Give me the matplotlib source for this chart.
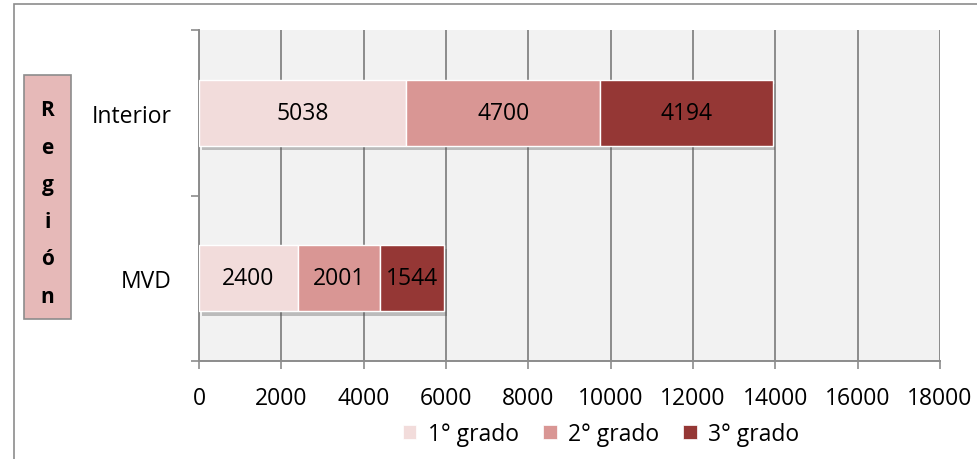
import numpy as np
import matplotlib.pyplot as plt
from matplotlib.patches import Rectangle, Patch
import matplotlib.patheffects as pe

plt.rcParams['font.family'] = ['Open Sans', 'DejaVu Sans']

regions = ['MVD', 'Interior']
series = ['1° grado', '2° grado', '3° grado']
grado1 = [2400, 5038]
grado2 = [2001, 4700]
grado3 = [1544, 4194]
colors = ['#F2DCDB', '#D99694', '#953735']

W, H = 978, 460
FS = 16.5
fig = plt.figure(figsize=(W / 100, H / 100), dpi=100)
ax = fig.add_axes([199 / W, 1 - 362 / H, (940 - 199) / W, (362 - 31) / H])

# outer chart frame (cropped on right/bottom)
fig.patches.append(Rectangle((14 / W, -0.2), 1.5, 1 - 5 / H + 0.2, transform=fig.transFigure,
                             fill=False, edgecolor='#8c8c8c', linewidth=1.2))

ax.set_facecolor('#F2F2F2')
y = np.arange(len(regions))
left = np.zeros(len(regions))
shadow = [pe.SimplePatchShadow(offset=(2, -3), shadow_rgbFace='#555555', alpha=0.35), pe.Normal()]
for vals, name, c in zip([grado1, grado2, grado3], series, colors):
    bars = ax.barh(y, vals, left=left, height=0.4, color=c, edgecolor='white', linewidth=1, zorder=3)
    for b in bars:
        b.set_path_effects(shadow)
    ax.bar_label(bars, labels=[str(v) for v in vals], label_type='center', fontsize=FS, color='black')
    left = left + np.array(vals)

ax.set_xlim(0, 18000)
ax.set_ylim(-0.5, 1.5)
ax.set_xticks(np.arange(0, 18001, 2000))
ax.xaxis.grid(True, color='#8c8c8c', linewidth=1.4, zorder=0)
ax.set_axisbelow(True)
ax.set_yticks([-0.5, 0.5, 1.5])
ax.set_yticklabels([])
ax.set_yticks(y, minor=True)
ax.set_yticklabels(regions, minor=True)
ax.tick_params(axis='y', which='minor', length=0, pad=19.5, labelsize=FS)
ax.tick_params(axis='y', which='major', length=6, color='#8c8c8c', width=1.2)
ax.tick_params(axis='x', length=6, color='#8c8c8c', width=1.2, labelsize=FS, pad=12)
for s in ['top', 'right']:
    ax.spines[s].set_visible(False)
for s in ['left', 'bottom']:
    ax.spines[s].set_color('#8c8c8c')
    ax.spines[s].set_linewidth(1.4)

# y axis title box
fig.patches.append(Rectangle((24 / W, 1 - 320 / H), 47 / W, 244 / H, transform=fig.transFigure,
                             facecolor='#E6B9B8', edgecolor='#8c8c8c', linewidth=1.2))
fig.text(47.5 / W, 1 - 204 / H, 'R\ne\ng\ni\nó\nn', ha='center', va='center', fontsize=15,
         fontweight='bold', linespacing=2.02)

handles = [Patch(facecolor=c, edgecolor='white', linewidth=0.5) for c in colors]
fig.legend(handles, series, loc='center', bbox_to_anchor=(601 / W, 1 - 435 / H), ncol=3, frameon=False,
           fontsize=FS, handlelength=0.6, handleheight=0.6, handletextpad=0.5, columnspacing=1.05)

fig.savefig('out.png', dpi=100)
